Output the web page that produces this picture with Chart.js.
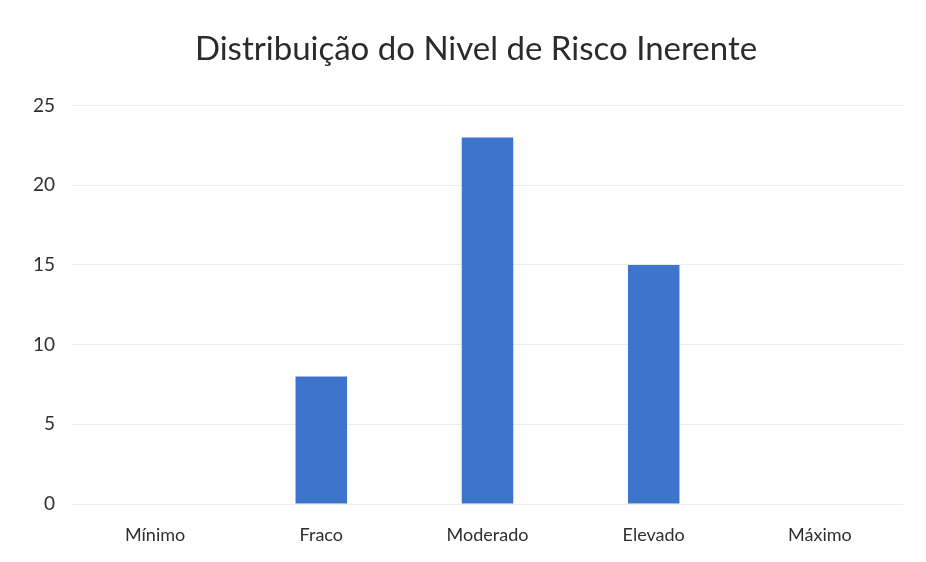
<!DOCTYPE html>
<html>
<head>
<meta charset="utf-8">
<script src="https://cdn.jsdelivr.net/npm/chart.js@4"></script>
<style>
  html, body { margin: 0; padding: 0; background: #fff; }
  #wrap { width: 926px; height: 562px; }
</style>
</head>
<body>
<div id="wrap"><canvas id="riskChart"></canvas></div>
<script>
const categories = ["Mínimo", "Fraco", "Moderado", "Elevado", "Máximo"];
const counts = [0, 8, 23, 15, 0];
const yTicks = [0, 5, 10, 15, 20, 25];

const ctx = document.getElementById("riskChart").getContext("2d");
new Chart(ctx, {
  type: "bar",
  data: {
    labels: categories,
    datasets: [{
      label: "Nível de risco",
      data: counts,
      backgroundColor: "#3E75CC",
      barPercentage: 0.31,
      categoryPercentage: 1
    }]
  },
  options: {
    responsive: true,
    maintainAspectRatio: false,
    animation: false,
    layout: { padding: { left: 26, right: 0, top: 0, bottom: 0 } },
    plugins: {
      legend: { display: false },
      tooltip: { enabled: false },
      title: {
        display: true,
        text: "Distribuição do Nivel de Risco Inerente",
        color: "#2b2b2b",
        font: { family: "Lato", size: 33, weight: "normal" },
        padding: { top: 30, bottom: 36 }
      }
    },
    scales: {
      x: {
        grid: { display: false },
        border: { display: false },
        afterFit: axis => { axis.height = 58; },
        ticks: {
          color: "#2f2f2f",
          font: { family: "Lato", size: 18 },
          padding: 12
        }
      },
      y: {
        min: 0,
        max: 25,
        afterBuildTicks: axis => { axis.ticks = yTicks.map(v => ({ value: v })); },
        afterFit: axis => { axis.width = 46; },
        grid: { color: "#ececec", lineWidth: 1, drawTicks: false },
        border: { display: false },
        ticks: {
          color: "#2f2f2f",
          font: { family: "Lato", size: 19 },
          padding: 17
        }
      },
      yRight: {
        position: "right",
        min: 0,
        max: 25,
        afterFit: axis => { axis.width = 23; },
        grid: { display: false },
        border: { display: false },
        ticks: { display: false }
      }
    }
  }
});
</script>
</body>
</html>
